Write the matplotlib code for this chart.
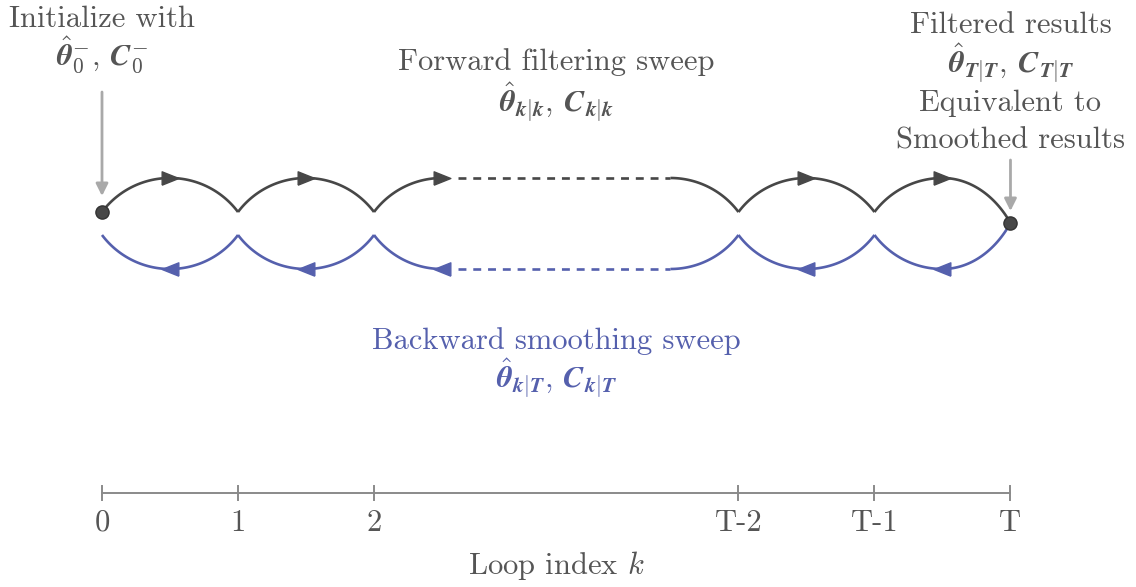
import numpy as np
import matplotlib
matplotlib.use("Agg")
import matplotlib.pyplot as plt

plt.rcParams['mathtext.fontset'] = 'cm'
plt.rcParams['font.family'] = ['cmr10', 'DejaVu Serif']
plt.rcParams['axes.formatter.use_mathtext'] = True

# ---- data ----
loop_positions = [0, 1, 2, 4.68, 5.68, 6.68]
loop_labels = ["0", "1", "2", "T-2", "T-1", "T"]
arrow_x = [0.5, 1.5, 2.5, 5.18, 6.18]
gap_start, gap_end = 2.5, 4.18

# ---- style ----
DARK = "#474747"
BLUE = "#5560ad"
GREY = "#a9a9a9"
AXC = "#8a8a8a"
TXT = "#555555"
LW = 1.9
FS = 22

W, H = 1136, 587
PPU = 136.0  # pixels per unit
fig = plt.figure(figsize=(W / 100, H / 100), dpi=100)
ax = fig.add_axes([0, 0, 1, 1])
ax.set_xlim(-102 / PPU, (W - 102) / PPU)
ax.set_ylim(0, H / PPU)
ax.set_aspect('equal')
ax.axis('off')


def py(p):
    return (H - p) / PPU


y_fwd, y_bwd = py(212), py(235)
y_end = py(223)
sag = 0.25
R = (0.5 ** 2 + sag ** 2) / (2 * sag)
alpha = np.arcsin(0.5 / R)


def half(xpeak, ypeak, direction, depth, sign):
    phi = np.linspace(0, alpha, 60)
    dx = R * np.sin(phi) * direction
    dy = R * (1 - np.cos(phi))
    dy = dy / dy[-1] * depth
    return xpeak + dx, ypeak - sign * dy


def draw_arcs(base, sign, color, arrow_dir, end_y):
    ypk = base + sign * sag
    segs = []
    x, y = half(gap_start, ypk, -1, sag, sign)
    segs.append((x[::-1], y[::-1]))
    for xp in [0.5, 1.5]:
        xl, yl = half(xp, ypk, -1, sag, sign)
        xr, yr = half(xp, ypk, +1, sag, sign)
        segs.append((np.r_[xl[::-1], xr], np.r_[yl[::-1], yr]))
    x, y = half(gap_end, ypk, +1, sag, sign)
    segs.append((x, y))
    for xp in [5.18, 6.18]:
        xl, yl = half(xp, ypk, -1, sag, sign)
        d = sag if xp != 6.18 else abs(ypk - end_y)
        xr, yr = half(xp, ypk, +1, d, sign)
        segs.append((np.r_[xl[::-1], xr], np.r_[yl[::-1], yr]))
    for x, y in segs:
        ax.plot(x, y, color=color, lw=LW, solid_capstyle='butt', zorder=2)
    ax.plot([gap_start + 0.12, gap_end], [ypk, ypk], color=color, lw=LW,
            dashes=(3.0, 2.6), zorder=2)
    if arrow_dir > 0:
        verts = [(-1, -0.8), (1, 0), (-1, 0.8), (-1, -0.8)]
    else:
        verts = [(1, -0.8), (-1, 0), (1, 0.8), (1, -0.8)]
    ax.plot(arrow_x, [ypk] * len(arrow_x), ls='none',
            marker=verts, ms=12, color=color, mec=color, zorder=3)


draw_arcs(y_fwd, +1, DARK, +1, y_end)
draw_arcs(y_bwd, -1, BLUE, -1, y_end)

# dots
ax.plot([loop_positions[0]], [y_fwd], 'o', ms=9.5, color=DARK, mec="#333333", zorder=4)
ax.plot([loop_positions[-1]], [y_end], 'o', ms=9.5, color=DARK, mec="#333333", zorder=4)

# grey arrows
ax.annotate("", xy=(loop_positions[0], py(196)), xytext=(loop_positions[0], py(92)),
            arrowprops=dict(arrowstyle="-|>", color=GREY, lw=2.0, mutation_scale=18,
                            shrinkA=0, shrinkB=0))
ax.annotate("", xy=(loop_positions[-1], py(211)), xytext=(loop_positions[-1], py(160)),
            arrowprops=dict(arrowstyle="-|>", color=GREY, lw=2.0, mutation_scale=18,
                            shrinkA=0, shrinkB=0))

# loop axis
y_ax = py(493)
ax.plot([loop_positions[0], loop_positions[-1]], [y_ax, y_ax], color=AXC, lw=1.4, zorder=1)
for xp, lab in zip(loop_positions, loop_labels):
    ax.plot([xp, xp], [py(486), py(500)], color=AXC, lw=1.4)
    ax.text(xp, py(523), lab, ha='center', va='center', fontsize=FS, color=TXT)
xm = (loop_positions[0] + loop_positions[-1]) / 2
ax.text(xm, py(566), r"Loop index $k$", ha='center', va='center', fontsize=FS, color=TXT)

# annotations
ax.text(loop_positions[0], py(19), "Initialize with", ha='center', va='center', fontsize=FS, color=TXT)
ax.text(loop_positions[0], py(55),
        r"$\hat{\boldsymbol{\theta}}_{\boldsymbol{0}}^{-}$, $\boldsymbol{C}_{\boldsymbol{0}}^{-}$",
        ha='center', va='center', fontsize=FS, color=TXT)
ax.text(xm, py(62), "Forward filtering sweep", ha='center', va='center', fontsize=FS, color=TXT)
ax.text(xm, py(102),
        r"$\hat{\boldsymbol{\theta}}_{\boldsymbol{k|k}}$, $\boldsymbol{C}_{\boldsymbol{k|k}}$",
        ha='center', va='center', fontsize=FS, color=TXT)
for yy, s in zip([25, 63, 103, 141],
                 ["Filtered results",
                  r"$\hat{\boldsymbol{\theta}}_{\boldsymbol{T|T}}$, $\boldsymbol{C}_{\boldsymbol{T|T}}$",
                  "Equivalent to", "Smoothed results"]):
    ax.text(loop_positions[-1], py(yy), s, ha='center', va='center', fontsize=FS, color=TXT)
ax.text(xm, py(341), "Backward smoothing sweep", ha='center', va='center', fontsize=FS, color=BLUE)
ax.text(xm, py(378),
        r"$\hat{\boldsymbol{\theta}}_{\boldsymbol{k|T}}$, $\boldsymbol{C}_{\boldsymbol{k|T}}$",
        ha='center', va='center', fontsize=FS, color=BLUE)

fig.savefig("out.png", dpi=100)
